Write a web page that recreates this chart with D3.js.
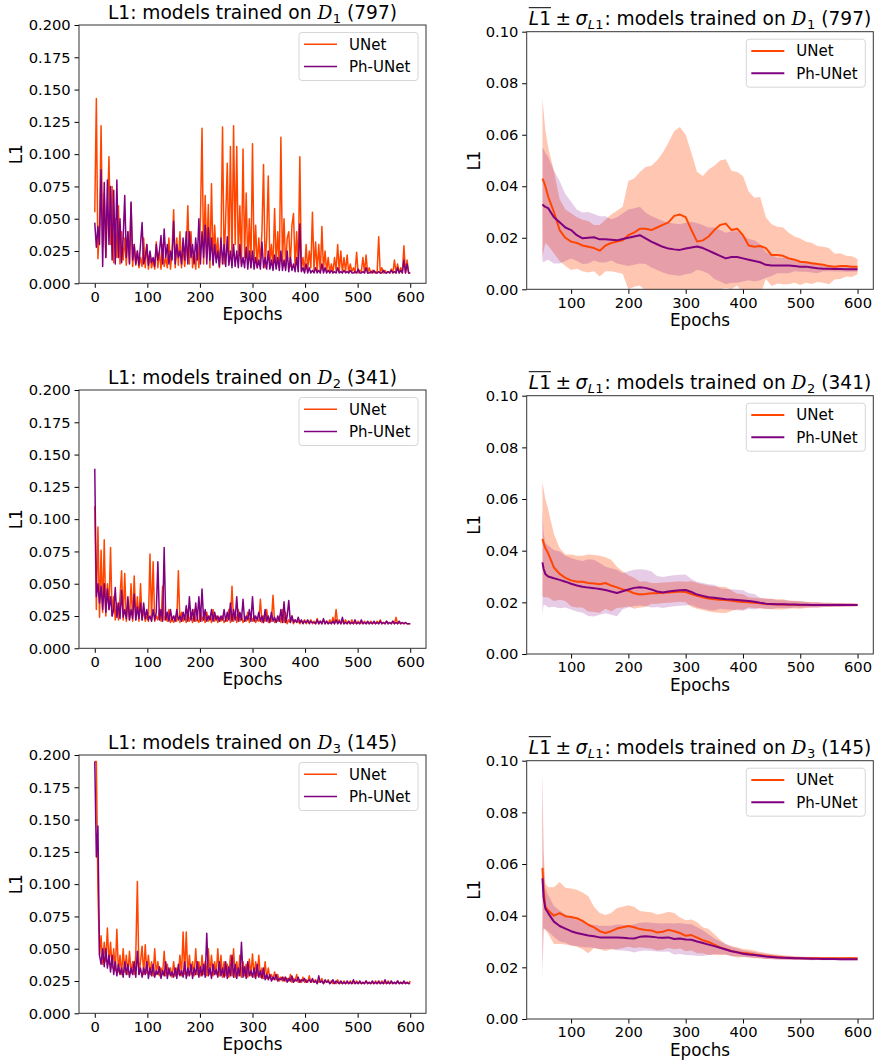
<!DOCTYPE html>
<html><head><meta charset="utf-8">
<script src="https://cdn.jsdelivr.net/npm/d3@7"></script>
<style>
body{margin:0;background:#fff}
svg{display:block}
text{font-family:"DejaVu Sans",sans-serif}
</style>
</head><body>
<svg id="c" width="883" height="1063"></svg>
<script>
// ---------------- DATA ----------------
const seriesNames = ["UNet", "Ph-UNet"];
const datasetIdx = ["1", "2", "3"];
const datasetCounts = ["797", "341", "145"];
const xTicksLeft = [0, 100, 200, 300, 400, 500, 600];
const xTicksRight = [100, 200, 300, 400, 500, 600];
const yTicksLeft = [0, 0.025, 0.05, 0.075, 0.1, 0.125, 0.15, 0.175, 0.2];
const yTicksRight = [0, 0.02, 0.04, 0.06, 0.08, 0.1];

// raw L1 per epoch (sampled every 3 epochs, 0..600)
const epochsRaw = d3.range(0, 601, 3);
const unetD1 = [
.055,.143,.019,.045,.122,.028,.070,.020,.055,.098,
.030,.075,.016,.050,.020,.060,.015,.040,.018,.035,
.014,.040,.016,.062,.013,.030,.014,.025,.012,.020,
.013,.035,.012,.030,.011,.022,.012,.018,.011,.032,
.012,.025,.011,.030,.013,.020,.012,.035,.011,.025,
.057,.012,.035,.014,.040,.012,.030,.013,.025,.060,
.015,.040,.012,.025,.011,.030,.012,.050,.120,.015,
.068,.020,.061,.012,.077,.015,.045,.020,.035,.012,
.030,.121,.015,.050,.093,.020,.106,.015,.122,.030,
.106,.020,.060,.015,.104,.020,.070,.015,.050,.012,
.108,.015,.045,.012,.035,.015,.040,.092,.012,.035,
.083,.015,.030,.012,.058,.015,.040,.012,.113,.015,
.050,.012,.035,.040,.013,.045,.054,.012,.040,.010,
.098,.010,.020,.009,.030,.010,.025,.012,.055,.010,
.032,.009,.030,.008,.044,.010,.025,.009,.020,.008,
.015,.008,.020,.010,.030,.009,.025,.008,.020,.009,
.022,.008,.015,.009,.012,.008,.024,.008,.010,.009,
.020,.008,.022,.008,.012,.008,.010,.008,.009,.008,
.036,.008,.012,.008,.010,.008,.009,.008,.011,.008,
.018,.008,.015,.008,.012,.008,.029,.008,.018,.008,
.008];
const phunetD1 = [
.047,.028,.044,.030,.088,.013,.078,.020,.080,.030,
.075,.018,.072,.015,.080,.020,.050,.016,.035,.068,
.020,.040,.015,.063,.018,.030,.015,.025,.014,.030,
.047,.015,.020,.030,.014,.025,.016,.020,.013,.030,
.018,.025,.037,.015,.042,.020,.030,.015,.025,.018,
.048,.015,.030,.020,.025,.015,.035,.018,.040,.015,
.040,.020,.030,.015,.035,.018,.050,.015,.040,.020,
.045,.015,.043,.018,.035,.014,.030,.016,.025,.013,
.035,.015,.030,.013,.036,.014,.025,.012,.030,.013,
.025,.012,.030,.013,.020,.012,.028,.011,.025,.012,
.025,.011,.020,.012,.018,.011,.032,.012,.020,.011,
.025,.011,.018,.010,.022,.011,.020,.010,.025,.010,
.018,.010,.025,.009,.020,.010,.015,.009,.020,.009,
.046,.009,.012,.008,.015,.008,.012,.008,.010,.008,
.012,.008,.010,.008,.015,.008,.012,.008,.010,.008,
.010,.008,.009,.008,.012,.008,.009,.008,.010,.008,
.009,.008,.010,.008,.008,.009,.008,.011,.008,.008,
.009,.008,.012,.008,.008,.009,.008,.010,.008,.008,
.009,.008,.008,.010,.008,.008,.009,.008,.010,.008,
.009,.008,.012,.008,.010,.008,.018,.008,.015,.008,
.008];
const unetD2 = [
.110,.030,.094,.024,.076,.028,.084,.025,.050,.030,
.078,.025,.040,.022,.035,.022,.040,.060,.022,.058,
.021,.035,.022,.050,.021,.056,.022,.040,.021,.050,
.022,.030,.021,.025,.021,.073,.022,.067,.021,.025,
.022,.030,.021,.048,.022,.025,.021,.030,.020,.022,
.020,.025,.021,.060,.020,.028,.021,.025,.020,.030,
.021,.025,.020,.030,.021,.022,.020,.030,.021,.025,
.020,.028,.021,.025,.020,.030,.021,.025,.020,.024,
.021,.025,.020,.022,.021,.030,.020,.048,.021,.028,
.020,.030,.021,.025,.020,.022,.021,.028,.020,.025,
.021,.025,.020,.022,.021,.038,.020,.025,.021,.030,
.020,.022,.021,.041,.020,.022,.021,.025,.020,.030,
.020,.028,.019,.022,.020,.025,.019,.022,.020,.021,
.019,.021,.020,.022,.019,.021,.020,.022,.019,.021,
.019,.023,.019,.021,.019,.022,.019,.021,.019,.022,
.019,.024,.019,.030,.019,.022,.019,.021,.019,.022,
.019,.021,.019,.022,.019,.020,.019,.021,.019,.020,
.019,.021,.019,.020,.019,.021,.019,.020,.019,.021,
.019,.022,.019,.020,.019,.021,.019,.020,.019,.021,
.019,.024,.019,.020,.019,.020,.019,.020,.019,.019,
.019];
const phunetD2 = [
.139,.040,.050,.035,.048,.030,.050,.028,.046,.030,
.040,.025,.030,.047,.024,.035,.023,.045,.024,.030,
.023,.040,.022,.030,.023,.042,.022,.032,.023,.035,
.022,.035,.023,.030,.022,.025,.021,.030,.022,.028,
.067,.022,.030,.021,.078,.022,.028,.021,.030,.022,
.025,.021,.030,.022,.025,.021,.028,.022,.033,.021,
.040,.022,.030,.021,.035,.022,.040,.021,.046,.022,
.030,.021,.025,.022,.030,.021,.028,.022,.025,.021,
.025,.022,.030,.021,.028,.022,.035,.021,.030,.022,
.040,.021,.028,.022,.038,.021,.025,.022,.030,.021,
.040,.021,.025,.022,.028,.021,.025,.020,.030,.021,
.025,.020,.028,.021,.024,.020,.025,.021,.030,.020,
.036,.020,.025,.037,.020,.025,.020,.022,.020,.024,
.020,.022,.019,.021,.020,.022,.019,.021,.020,.020,
.019,.022,.019,.021,.019,.023,.019,.021,.019,.020,
.019,.021,.019,.022,.019,.021,.019,.024,.019,.020,
.019,.021,.019,.020,.019,.022,.019,.020,.019,.022,
.019,.020,.019,.021,.019,.020,.019,.021,.019,.020,
.019,.021,.019,.020,.019,.021,.019,.020,.019,.021,
.019,.020,.019,.021,.019,.020,.019,.020,.019,.019,
.019];
const unetD3 = [
.195,.195,.095,.045,.060,.038,.055,.040,.066,.038,
.055,.035,.050,.033,.065,.032,.045,.030,.050,.032,
.045,.030,.048,.031,.040,.030,.045,.102,.030,.040,
.052,.030,.053,.031,.045,.030,.040,.029,.050,.030,
.040,.029,.035,.030,.048,.029,.038,.030,.035,.028,
.040,.029,.035,.030,.045,.029,.063,.030,.063,.029,
.045,.030,.040,.029,.050,.030,.040,.029,.045,.030,
.040,.029,.050,.030,.045,.029,.040,.030,.050,.029,
.045,.028,.040,.029,.038,.028,.045,.029,.050,.028,
.040,.029,.045,.028,.040,.029,.038,.028,.042,.029,
.046,.028,.040,.029,.045,.028,.035,.027,.040,.027,
.035,.027,.030,.026,.032,.026,.030,.025,.028,.025,
.028,.025,.027,.025,.030,.024,.027,.025,.030,.024,
.026,.024,.028,.024,.026,.024,.029,.024,.025,.024,
.026,.023,.025,.024,.027,.023,.025,.024,.026,.023,
.025,.023,.024,.023,.026,.023,.024,.023,.025,.023,
.024,.023,.025,.023,.024,.023,.025,.023,.024,.023,
.024,.023,.025,.023,.024,.023,.024,.023,.025,.023,
.024,.023,.025,.023,.024,.023,.025,.023,.024,.023,
.024,.023,.025,.023,.024,.023,.024,.023,.024,.023,
.025];
const phunetD3 = [
.195,.121,.145,.045,.038,.050,.036,.050,.035,.045,
.032,.045,.030,.040,.029,.038,.030,.035,.028,.040,
.030,.038,.028,.035,.030,.040,.028,.048,.030,.035,
.028,.035,.030,.040,.027,.035,.029,.038,.028,.033,
.030,.036,.027,.033,.029,.040,.027,.035,.029,.032,
.028,.035,.027,.038,.029,.033,.028,.040,.027,.035,
.029,.038,.027,.035,.030,.040,.028,.036,.029,.038,
.028,.062,.029,.035,.027,.038,.030,.034,.028,.040,
.029,.035,.028,.040,.027,.036,.029,.045,.028,.038,
.027,.035,.029,.055,.028,.036,.027,.040,.029,.033,
.028,.035,.027,.038,.028,.033,.027,.035,.026,.030,
.026,.030,.025,.028,.026,.030,.025,.027,.026,.028,
.025,.028,.024,.027,.025,.029,.024,.026,.025,.028,
.024,.026,.025,.027,.024,.025,.026,.024,.027,.024,
.025,.023,.029,.024,.025,.023,.026,.024,.025,.023,
.024,.026,.023,.025,.024,.023,.025,.023,.024,.023,
.025,.023,.024,.023,.026,.023,.024,.023,.025,.023,
.024,.023,.025,.023,.024,.023,.025,.023,.024,.023,
.025,.023,.024,.023,.026,.023,.024,.023,.025,.023,
.024,.023,.025,.023,.024,.023,.025,.023,.024,.023,
.023];

// running mean and sigma (epochs 50, 52, 55, then 60..600 every 10)
const epochsStats = [50, 52, 55].concat(d3.range(60, 601, 10));
const unetMeanD1 = [
.043,.042,.040,
.036,.030,.023,.020,.0185,.018,.017,.0165,.016,
.015,.017,.018,.0185,.019,.021,.022,.0235,.0235,.023,
.024,.025,.026,.0285,.029,.028,.023,.0185,.019,.0205,
.023,.025,.0255,.023,.0235,.021,.017,.0165,.0168,.016,
.0133,.0133,.013,.012,.0115,.0107,.0105,.0101,.0098,.0095,
.009,.0088,.009,.009,.0088,.0088];
const unetSdD1 = [
.031,.027,.022,
.019,.016,.012,.011,.011,.010,.010,.010,.009,
.010,.010,.011,.012,.013,.021,.021,.022,.024,.025,
.026,.028,.031,.033,.034,.032,.030,.027,.025,.026,
.025,.025,.025,.023,.022,.023,.021,.019,.019,.012,
.012,.011,.011,.010,.009,.009,.008,.008,.007,.007,
.007,.005,.005,.004,.004,.003];
const phunetMeanD1 = [
.033,.0325,.032,
.0315,.028,.026,.024,.023,.021,.0198,.020,.0202,
.0194,.0194,.0192,.019,.0195,.020,.0205,.021,.0198,.0185,
.0175,.0165,.0158,.0155,.0153,.0158,.0162,.0166,.016,.015,
.014,.013,.012,.0125,.0125,.012,.0115,.011,.0105,.0095,
.0092,.0092,.0092,.0092,.009,.0088,.0088,.0085,.0082,.008,
.008,.0079,.0079,.0078,.0078,.0078];
const phunetSdD1 = [
.022,.022,.021,
.020,.018,.016,.013,.011,.010,.010,.010,.009,
.009,.009,.008,.009,.010,.011,.011,.011,.010,.010,
.010,.010,.010,.010,.010,.010,.010,.009,.009,.009,
.010,.010,.010,.010,.010,.009,.008,.008,.007,.005,
.004,.003,.003,.003,.002,.002,.002,.002,.002,.001,
.001,.001,.001,.001,.001,.001];
const unetMeanD2 = [
.0445,.043,.041,
.039,.0335,.031,.0295,.0285,.028,.028,.0275,.0273,
.027,.0275,.0265,.0258,.025,.0245,.0235,.023,.0232,.0235,
.0235,.0237,.0238,.024,.0242,.024,.0232,.0225,.022,.0215,
.0212,.021,.0209,.0206,.0203,.0201,.020,.0198,.0196,.0194,
.0193,.0192,.0192,.0191,.0191,.019,.019,.019,.019,.019,
.019,.019,.019,.019,.019,.019];
const unetSdD2 = [
.022,.021,.019,
.017,.013,.010,.009,.010,.010,.010,.011,.011,
.011,.010,.010,.008,.007,.006,.006,.005,.005,.004,
.004,.004,.004,.004,.004,.004,.005,.005,.005,.005,
.005,.005,.005,.004,.003,.003,.002,.002,.002,.002,
.002,.002,.002,.0015,.0015,.0015,.0012,.001,.001,.0008,
.0008,.0007,.0007,.0006,.0006,.0005];
const phunetMeanD2 = [
.0355,.033,.031,
.030,.0293,.0287,.028,.0272,.0265,.026,.0257,.0255,
.0252,.0248,.0242,.0236,.0243,.025,.0256,.0258,.0256,.025,
.0242,.0238,.0242,.0245,.0247,.0248,.024,.023,.0225,.022,
.0218,.0215,.0212,.0211,.0209,.0207,.0205,.0202,.0198,.0195,
.0194,.0193,.0193,.0192,.0192,.0191,.0191,.019,.019,.019,
.019,.019,.019,.019,.019,.019];
const phunetSdD2 = [
.020,.014,.012,
.012,.011,.011,.010,.010,.010,.010,.011,.011,
.010,.009,.009,.009,.007,.007,.007,.007,.007,.007,
.006,.006,.006,.006,.006,.006,.005,.005,.005,.005,
.005,.004,.004,.004,.004,.004,.003,.003,.002,.002,
.002,.0015,.0015,.0015,.0012,.0012,.001,.001,.001,.0008,
.0008,.0007,.0007,.0006,.0006,.0005];
const unetMeanD3 = [
.0585,.050,.0435,
.042,.040,.041,.0398,.0395,.039,.038,.0365,.0355,
.034,.0333,.034,.035,.0355,.036,.0355,.0348,.0345,.0343,
.0335,.0338,.0345,.034,.0333,.0322,.0325,.0315,.0305,.0298,
.0288,.0277,.027,.0263,.0258,.0256,.0254,.025,.0247,.0244,
.0242,.024,.0238,.0237,.0236,.0235,.0235,.0235,.0235,.0235,
.0235,.0235,.0235,.0235,.0235,.0235];
const unetSdD3 = [
.038,.015,.009,
.009,.011,.012,.011,.011,.011,.011,.011,.008,
.007,.007,.007,.008,.008,.008,.008,.007,.007,.007,
.007,.007,.007,.007,.006,.006,.006,.006,.005,.005,
.004,.003,.002,.002,.002,.0015,.0015,.0015,.0012,.0012,
.001,.001,.0008,.0008,.0007,.0006,.0006,.0006,.0005,.0005,
.0005,.0005,.0005,.0005,.0005,.0005];
const phunetMeanD3 = [
.0545,.047,.0428,
.041,.0377,.036,.035,.034,.0333,.0328,.0323,.032,
.0316,.0316,.0316,.0316,.0315,.0313,.0312,.0318,.032,.0318,
.0316,.0315,.0316,.031,.0312,.0308,.0307,.030,.0294,.0288,
.0282,.0276,.0269,.0262,.0258,.0253,.025,.0248,.0245,.0242,
.024,.0238,.0237,.0236,.0235,.0235,.0234,.0233,.0233,.0232,
.0232,.0232,.0231,.0231,.0231,.0231];
const phunetSdD3 = [
.040,.012,.008,
.007,.006,.006,.0055,.0055,.005,.005,.0045,.0045,
.0045,.0045,.0045,.005,.005,.005,.0055,.0055,.0055,.0055,
.0055,.0055,.0055,.006,.006,.006,.006,.0055,.005,.004,
.003,.0025,.002,.0018,.0015,.0013,.0012,.0011,.001,.001,
.0009,.0008,.0008,.0007,.0007,.0006,.0006,.0006,.0005,.0005,
.0005,.0005,.0005,.0005,.0005,.0005];

// ---------------- DRAWING ----------------
const colors = ["#ff4500", "#800080"];
const bandOpacity = [0.3, 0.2];
const svg = d3.select("#c");
const defs = svg.append("defs");

const rawSets = [[unetD1, phunetD1], [unetD2, phunetD2], [unetD3, phunetD3]];
const meanSets = [[unetMeanD1, phunetMeanD1], [unetMeanD2, phunetMeanD2], [unetMeanD3, phunetMeanD3]];
const sdSets = [[unetSdD1, phunetSdD1], [unetSdD2, phunetSdD2], [unetSdD3, phunetSdD3]];

const leftX = [79, 426];
const rightX = [526.7, 873.3];
const leftRows = [[25, 283.3], [390, 648.3], [755, 1013.3]];
const rightRows = [[31.7, 289.3], [395.7, 654], [760.7, 1019]];
const TICK_FS = 14.7, LABEL_FS = 16.8, TITLE_FS = 18.6, LEG_FS = 15;

function styleAxis(g) {
  g.select(".domain").remove();
  g.selectAll(".tick line").attr("stroke", "#000").attr("stroke-width", 1);
  g.selectAll(".tick text").attr("fill", "#000").style("font-size", TICK_FS + "px")
    .style("font-family", '"DejaVu Sans", sans-serif');
}

function frame(g, x0, x1, y0, y1) {
  g.append("rect").attr("x", x0).attr("y", y0).attr("width", x1 - x0).attr("height", y1 - y0)
    .attr("fill", "none").attr("stroke", "#333").attr("stroke-width", 1);
}

function legend(g, x1, top, lw) {
  const w = 119, h = 48;
  const bx = x1 - 8 - w, by = top + 7.5;
  g.append("rect").attr("x", bx).attr("y", by).attr("width", w).attr("height", h)
    .attr("rx", 3).attr("fill", "#fff").attr("fill-opacity", 0.8)
    .attr("stroke", "#d6d6d6").attr("stroke-width", 1);
  seriesNames.forEach((name, i) => {
    const yy = by + 11.8 + i * 22.3;
    g.append("line").attr("x1", bx + 5).attr("x2", bx + 38).attr("y1", yy).attr("y2", yy)
      .attr("stroke", colors[i]).attr("stroke-width", lw);
    g.append("text").attr("x", bx + 50).attr("y", yy).attr("dy", "0.36em")
      .style("font-size", LEG_FS + "px").attr("fill", "#000").text(name);
  });
}

function axisLabels(g, x0, x1, y0, y1, yLabX) {
  g.append("text").attr("x", (x0 + x1) / 2).attr("y", y1 + 36.7).attr("text-anchor", "middle")
    .style("font-size", LABEL_FS + "px").attr("fill", "#000").text("Epochs");
  g.append("text").attr("transform", `translate(${yLabX},${(y0 + y1) / 2}) rotate(-90)`)
    .attr("text-anchor", "middle").style("font-size", LABEL_FS + "px").attr("fill", "#000").text("L1");
}

// title built from measured pieces
function richTitle(g, cx, baseY, pieces) {
  const grp = g.append("g");
  const space = 0.318 * TITLE_FS;
  let cur = 0, overStart = null, overEnd = null;
  pieces.forEach(p => {
    cur += (p.gap === "sp" ? space : (p.gap || 0));
    const fs = p.sub ? TITLE_FS * 0.7 : TITLE_FS;
    const t = grp.append("text").attr("x", cur).attr("y", baseY + (p.sub ? 4 : 0))
      .style("font-size", fs + "px")
      .style("font-style", p.it ? "italic" : "normal")
      .style("font-family", p.serif ? '"DejaVu Serif", serif' : '"DejaVu Sans", sans-serif')
      .style("white-space", "pre")
      .attr("fill", "#000").text(p.t);
    const w = t.node().getComputedTextLength();
    if (p.over) { if (overStart === null) overStart = cur; overEnd = cur + w; }
    cur += w;
  });
  if (overStart !== null) {
    grp.append("line").attr("x1", overStart).attr("x2", overEnd)
      .attr("y1", baseY - 17.3).attr("y2", baseY - 17.3).attr("stroke", "#000").attr("stroke-width", 1);
  }
  grp.attr("transform", `translate(${cx - cur / 2},0)`);
}

function dsPieces(k) {
  return [
    {t: "models trained on", gap: "sp"},
    {t: "D", it: true, serif: true, gap: "sp"},
    {t: datasetIdx[k], sub: true, gap: 0.5},
    {t: "(" + datasetCounts[k] + ")", gap: "sp"}
  ];
}

for (let k = 0; k < 3; k++) {
  // ---------- left panel ----------
  {
    const [y0, y1] = leftRows[k];
    const [x0, x1] = leftX;
    const g = svg.append("g");
    const x = d3.scaleLinear().domain([-30, 630]).range([x0, x1]);
    const y = d3.scaleLinear().domain([0, 0.2]).range([y1, y0]);
    const cid = "clipL" + k;
    defs.append("clipPath").attr("id", cid).append("rect")
      .attr("x", x0).attr("y", y0).attr("width", x1 - x0).attr("height", y1 - y0);
    const plot = g.append("g").attr("clip-path", `url(#${cid})`);
    rawSets[k].forEach((vals, s) => {
      const line = d3.line().x((d, i) => x(epochsRaw[i])).y(d => y(d));
      plot.append("path").datum(vals).attr("d", line).attr("fill", "none")
        .attr("stroke", colors[s]).attr("stroke-width", 1.5).attr("stroke-linejoin", "round");
    });
    const ax = g.append("g").attr("transform", `translate(0,${y1})`)
      .call(d3.axisBottom(x).tickValues(xTicksLeft).tickFormat(d3.format("d")).tickSize(4.5).tickPadding(3.5));
    styleAxis(ax);
    const ay = g.append("g").attr("transform", `translate(${x0},0)`)
      .call(d3.axisLeft(y).tickValues(yTicksLeft).tickFormat(d3.format(".3f")).tickSize(4.5).tickPadding(3.8));
    styleAxis(ay);
    frame(g, x0, x1, y0, y1);
    legend(g, x1, y0, 1.5);
    axisLabels(g, x0, x1, y0, y1, 21.5);
    richTitle(g, (x0 + x1) / 2, y0 - 5.7, [{t: "L1:"}].concat(dsPieces(k)));
  }
  // ---------- right panel ----------
  {
    const [y0, y1] = rightRows[k];
    const [x0, x1] = rightX;
    const g = svg.append("g");
    const x = d3.scaleLinear().domain([22.5, 627.5]).range([x0, x1]);
    const y = d3.scaleLinear().domain([0, 0.1]).range([y1, y0]);
    const cid = "clipR" + k;
    defs.append("clipPath").attr("id", cid).append("rect")
      .attr("x", x0).attr("y", y0).attr("width", x1 - x0).attr("height", y1 - y0);
    const plot = g.append("g").attr("clip-path", `url(#${cid})`);
    [0, 1].forEach(s => {
      const m = meanSets[k][s], sd = sdSets[k][s];
      const area = d3.area().x((d, i) => x(epochsStats[i]))
        .y0((d, i) => y(m[i] - sd[i])).y1((d, i) => y(m[i] + sd[i]));
      plot.append("path").datum(m).attr("d", area).attr("fill", colors[s])
        .attr("fill-opacity", bandOpacity[s]).attr("stroke", "none");
    });
    [0, 1].forEach(s => {
      const line = d3.line().x((d, i) => x(epochsStats[i])).y(d => y(d));
      plot.append("path").datum(meanSets[k][s]).attr("d", line).attr("fill", "none")
        .attr("stroke", colors[s]).attr("stroke-width", 2).attr("stroke-linejoin", "round");
    });
    const ax = g.append("g").attr("transform", `translate(0,${y1})`)
      .call(d3.axisBottom(x).tickValues(xTicksRight).tickFormat(d3.format("d")).tickSize(4.5).tickPadding(3.5));
    styleAxis(ax);
    const ay = g.append("g").attr("transform", `translate(${x0},0)`)
      .call(d3.axisLeft(y).tickValues(yTicksRight).tickFormat(d3.format(".2f")).tickSize(4.5).tickPadding(3.8));
    styleAxis(ay);
    frame(g, x0, x1, y0, y1);
    legend(g, x1, y0, 2);
    axisLabels(g, x0, x1, y0, y1, 480);
    const prefix = [
      {t: "L", it: true, over: true},
      {t: "1", over: true},
      {t: "\u00B1", gap: 4.5},
      {t: "\u03C3", it: true, gap: 4.5},
      {t: "L", it: true, sub: true, gap: 0.5},
      {t: "1", sub: true},
      {t: ":", gap: 1}
    ];
    richTitle(g, (x0 + x1) / 2, y0 - 6.7, prefix.concat(dsPieces(k)));
  }
}
</script>
</body></html>
